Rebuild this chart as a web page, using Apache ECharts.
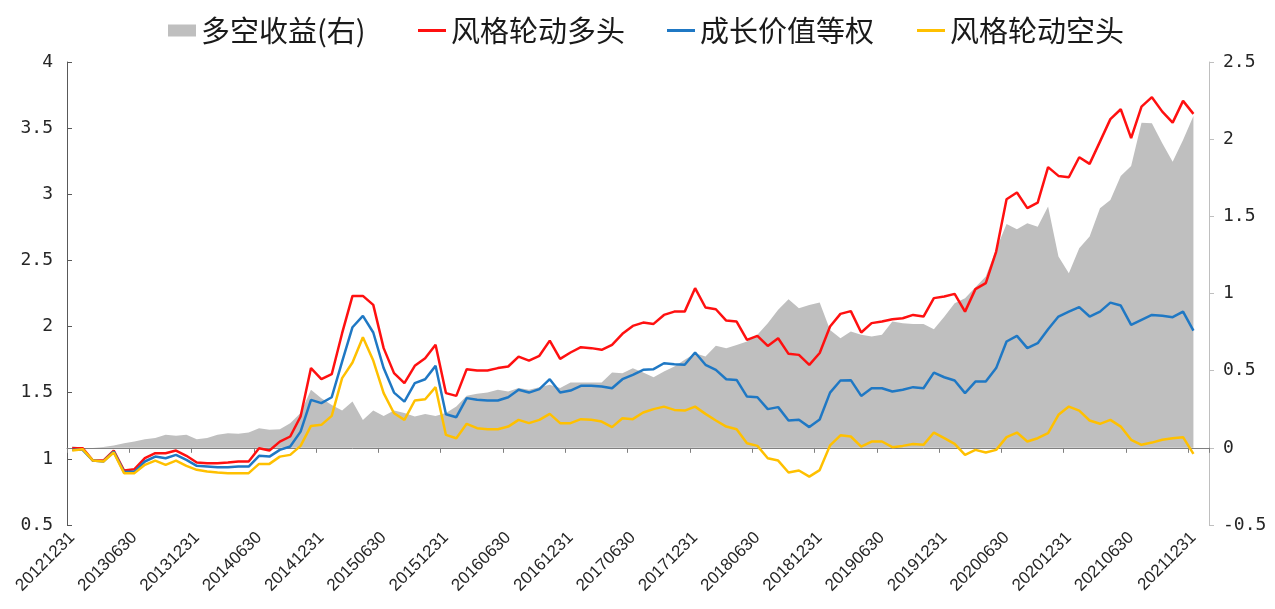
<!DOCTYPE html>
<html><head><meta charset="utf-8">
<script src="https://cdn.jsdelivr.net/npm/echarts@6/dist/echarts.min.js"></script>
<style>html,body{margin:0;padding:0;background:#fff}#c{width:1275px;height:609px}</style>
</head><body><div id="c"></div>
<script>
const seriesNames = ['多空收益(右)', '风格轮动多头', '成长价值等权', '风格轮动空头'];

// Monthly category axis: 20121231 ... (110 month-end slots, data fills first 109)
const startYear = 2012, startMonth = 12, nCats = 110;
function monthEnd(y, m) { return new Date(y, m, 0).getDate(); }
const categories = [];
for (let k = 0; k < nCats; k++) {
  let m = startMonth + k;
  const y = startYear + Math.floor((m - 1) / 12);
  m = ((m - 1) % 12) + 1;
  categories.push('' + y + String(m).padStart(2, '0') + String(monthEnd(y, m)).padStart(2, '0'));
}

const longShort = [0.01,0.0,0.0,0.005,0.015,0.03,0.041,0.056,0.063,0.084,0.078,0.084,0.056,0.063,0.084,0.095,0.091,0.099,0.127,0.117,
0.121,0.16,0.225,0.376,0.322,0.278,0.242,0.3,0.181,0.242,0.207,0.242,0.225,0.203,0.22,0.207,0.225,0.268,0.337,0.35,
0.358,0.376,0.365,0.387,0.376,0.393,0.408,0.387,0.423,0.423,0.423,0.423,0.488,0.484,0.516,0.488,0.458,0.494,0.527,0.57,
0.613,0.591,0.661,0.646,0.667,0.689,0.732,0.808,0.894,0.963,0.905,0.926,0.942,0.764,0.71,0.753,0.732,0.721,0.732,0.818,
0.808,0.803,0.803,0.769,0.85,0.937,0.97,1.041,1.11,1.287,1.451,1.416,1.455,1.433,1.563,1.239,1.131,1.293,1.369,1.552,
1.606,1.762,1.826,2.107,2.103,1.973,1.854,1.995,2.15];

const rotationLong = [1.081,1.081,0.987,0.987,1.063,0.912,0.922,1.005,1.043,1.043,1.063,1.023,0.972,0.967,0.967,0.972,0.98,0.98,1.08,1.063,
1.13,1.169,1.32,1.686,1.602,1.64,1.95,2.232,2.232,2.164,1.837,1.648,1.572,1.703,1.761,1.862,1.497,1.476,1.678,1.668,
1.668,1.686,1.698,1.773,1.743,1.779,1.894,1.756,1.804,1.844,1.837,1.824,1.862,1.945,2.005,2.03,2.02,2.088,2.113,2.113,
2.29,2.144,2.131,2.045,2.038,1.9,1.93,1.854,1.912,1.794,1.786,1.711,1.8,2.0,2.096,2.117,1.955,2.026,2.038,2.056,
2.063,2.088,2.076,2.215,2.227,2.247,2.113,2.283,2.328,2.567,2.963,3.013,2.895,2.937,3.205,3.139,3.129,3.28,3.23,3.398,
3.568,3.643,3.424,3.663,3.734,3.625,3.542,3.706,3.608];

const equalWeight = [1.068,1.068,0.987,0.98,1.055,0.9,0.904,0.98,1.017,1.005,1.03,0.992,0.947,0.942,0.937,0.937,0.942,0.942,1.023,1.017,
1.068,1.093,1.206,1.446,1.421,1.466,1.735,1.995,2.081,1.955,1.686,1.501,1.433,1.572,1.602,1.703,1.337,1.315,1.459,1.446,
1.441,1.441,1.466,1.522,1.501,1.527,1.602,1.501,1.516,1.552,1.552,1.547,1.534,1.602,1.635,1.673,1.678,1.723,1.716,1.711,
1.804,1.711,1.673,1.602,1.597,1.471,1.466,1.376,1.391,1.29,1.295,1.24,1.298,1.501,1.592,1.595,1.476,1.534,1.534,1.509,
1.522,1.542,1.534,1.652,1.617,1.592,1.497,1.584,1.584,1.686,1.887,1.93,1.837,1.874,1.98,2.076,2.113,2.147,2.076,2.113,
2.181,2.159,2.013,2.051,2.088,2.081,2.071,2.113,1.97];

const rotationShort = [1.063,1.073,0.987,0.98,1.048,0.892,0.892,0.955,0.987,0.955,0.987,0.947,0.917,0.904,0.897,0.892,0.892,0.892,0.962,0.962,
1.017,1.03,1.098,1.249,1.257,1.325,1.61,1.728,1.92,1.743,1.497,1.345,1.295,1.441,1.451,1.542,1.181,1.156,1.265,1.232,
1.224,1.224,1.244,1.295,1.27,1.295,1.34,1.27,1.27,1.3,1.295,1.282,1.24,1.307,1.3,1.35,1.376,1.395,1.37,1.365,
1.395,1.34,1.29,1.244,1.224,1.118,1.098,1.005,0.987,0.897,0.912,0.866,0.915,1.102,1.178,1.169,1.093,1.131,1.131,1.088,
1.098,1.113,1.106,1.199,1.156,1.113,1.03,1.068,1.048,1.068,1.164,1.199,1.131,1.156,1.194,1.333,1.395,1.365,1.29,1.265,
1.295,1.244,1.144,1.106,1.123,1.144,1.156,1.164,1.038];

const leftMin = 0.5, leftMax = 4, leftStep = 0.5;
const rightMin = -0.5, rightMax = 2.5, rightStep = 0.5;
const labelEvery = 6;

const colors = ['#bfbfbf', '#ff1010', '#1f78c4', '#ffc000'];
const legendLefts = [163, 413, 662, 912];

const chart = echarts.init(document.getElementById('c'), null, { renderer: 'canvas' });
const legendText = { fontSize: 29, color: '#1a1a1a', fontFamily: 'Noto Sans CJK SC' };

chart.setOption({
  animation: false,
  backgroundColor: '#ffffff',
  grid: { left: 67, right: 66, top: 62, bottom: 84, containLabel: false },
  legend: seriesNames.map((n, i) => ({
    left: legendLefts[i], top: 11,
    data: [{ name: n, icon: 'rect' }],
    itemWidth: 28, itemHeight: i === 0 ? 12 : 3,
    textStyle: legendText,
    selectedMode: false
  })),
  xAxis: {
    type: 'category', data: categories, boundaryGap: true,
    axisLine: { lineStyle: { color: '#7f7f7f', width: 1 } },
    axisTick: { show: true, interval: labelEvery - 1, length: 5, lineStyle: { color: '#7f7f7f' } },
    axisLabel: { interval: labelEvery - 1, rotate: 45, fontSize: 17, color: '#262626', margin: 10, fontFamily: 'Liberation Sans' },
    splitLine: { show: false }
  },
  yAxis: [
    {
      type: 'value', min: leftMin, max: leftMax, interval: leftStep, position: 'left',
      axisLine: { show: true, lineStyle: { color: '#595959', width: 1 } },
      axisTick: { show: true, inside: true, length: 5, lineStyle: { color: '#595959' } },
      axisLabel: { fontSize: 18, color: '#262626', margin: 14, fontFamily: 'DejaVu Sans Mono' },
      splitLine: { show: false }
    },
    {
      type: 'value', min: rightMin, max: rightMax, interval: rightStep, position: 'right',
      axisLine: { show: true, lineStyle: { color: '#bfbfbf', width: 1 } },
      axisTick: { show: true, inside: false, length: 5, lineStyle: { color: '#bfbfbf' } },
      axisLabel: { fontSize: 18, color: '#262626', margin: 14, fontFamily: 'DejaVu Sans Mono' },
      splitLine: { show: false }
    }
  ],
  series: [
    {
      name: seriesNames[0], type: 'line', yAxisIndex: 1, data: longShort,
      symbol: 'none', lineStyle: { width: 0 }, itemStyle: { color: colors[0] },
      areaStyle: { color: colors[0], opacity: 1 }, z: 1
    },
    { name: seriesNames[1], type: 'line', data: rotationLong, symbol: 'none', lineStyle: { width: 2.5, color: colors[1] }, itemStyle: { color: colors[1] }, z: 3 },
    { name: seriesNames[2], type: 'line', data: equalWeight, symbol: 'none', lineStyle: { width: 2.5, color: colors[2] }, itemStyle: { color: colors[2] }, z: 3 },
    { name: seriesNames[3], type: 'line', data: rotationShort, symbol: 'none', lineStyle: { width: 2.5, color: colors[3] }, itemStyle: { color: colors[3] }, z: 3 }
  ]
});
</script>
</body></html>
